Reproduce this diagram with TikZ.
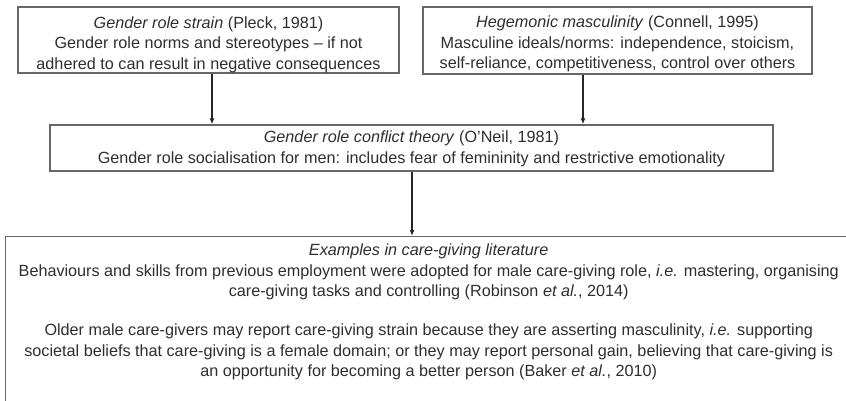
\documentclass[tikz,border=0pt]{standalone}
\usepackage{fontspec}
\setmainfont{Liberation Sans}
\usetikzlibrary{arrows.meta}
\definecolor{txt}{HTML}{2E2E2E}
\definecolor{edge}{HTML}{666666}
\newcommand\bxtext[4]{\begin{minipage}[c][#2][t]{#1}\centering\fontsize{16.2}{20.5}\selectfont
  \vspace*{#3}\rule{0pt}{12pt}#4\end{minipage}}
\begin{document}
\begin{tikzpicture}[x=1pt,y=-1pt,
  box/.style={draw=edge, line width=1.4pt, text=txt, inner sep=0pt},
  link/.style={draw=black!85, line width=1.5pt, -{Latex[length=6pt,width=5pt]}}]
\useasboundingbox (0,0) rectangle (846,400);
\clip (0,0) rectangle (846,400);
\node[box] (strain) at (208.5,40)
  {\bxtext{381pt}{66pt}{9pt}{\textit{Gender role strain} (Pleck, 1981)\\
   Gender role norms and stereotypes -- if not\\
   adhered to can result in negative consequences}};
\node[box] (heg) at (617.5,40.5)
  {\bxtext{389pt}{67pt}{8.5pt}{\textit{Hegemonic masculinity} (Connell, 1995)\\
   Masculine ideals/norms: independence, stoicism,\\
   self-reliance, competitiveness, control over others}};
\node[box] (conflict) at (411.5,148)
  {\bxtext{723pt}{46pt}{5.5pt}{\textit{Gender role conflict theory} (O'Neil, 1981)\\
   Gender role socialisation for men: includes fear of femininity and restrictive emotionality}};
\node[box, anchor=north west] (examples) at (5,236)
  {\bxtext{846pt}{180pt}{7pt}{\textit{Examples in care-giving literature}\\
   Behaviours and skills from previous employment were adopted for male care-giving role, \textit{i.e.} mastering, organising\\
   care-giving tasks and controlling (Robinson \textit{et al.}, 2014)\\[18.5pt]
   Older male care-givers may report care-giving strain because they are asserting masculinity, \textit{i.e.} supporting\\
   societal beliefs that care-giving is a female domain; or they may report personal gain, believing that care-giving is\\
   an opportunity for becoming a better person (Baker \textit{et al.}, 2010)}};
\coordinate (ss) at ([xshift=3.5pt]strain.south);
\coordinate (hs) at ([xshift=-34.5pt]heg.south);
\coordinate (cs) at ([xshift=0.5pt]conflict.south);
\draw[link] (ss) -- (ss |- conflict.north);
\draw[link] (hs) -- (hs |- conflict.north);
\draw[link] (cs) -- (cs |- examples.north);
\end{tikzpicture}
\end{document}
